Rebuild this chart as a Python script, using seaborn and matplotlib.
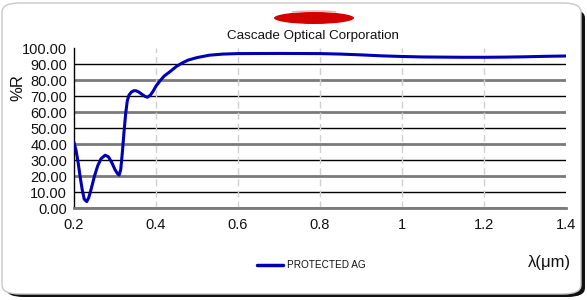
import numpy as np
import pandas as pd
import matplotlib
matplotlib.use("Agg")
import matplotlib.pyplot as plt
import seaborn as sns
from matplotlib.patches import FancyBboxPatch, Ellipse, Arc

wavelength = [0.200, 0.205, 0.210, 0.215, 0.220, 0.225, 0.231, 0.236, 0.242, 0.250,
              0.258, 0.266, 0.276, 0.284, 0.292, 0.300, 0.306, 0.310, 0.314, 0.318,
              0.322, 0.326, 0.330, 0.334, 0.340, 0.346, 0.351, 0.358, 0.366, 0.373,
              0.379, 0.386, 0.393, 0.400, 0.410, 0.420, 0.434, 0.450, 0.465, 0.479,
              0.500, 0.530, 0.563, 0.600, 0.700, 0.800, 0.850, 0.900, 0.950, 1.000,
              1.050, 1.100, 1.150, 1.200, 1.250, 1.300, 1.350, 1.400]
reflectance = [41.0, 36.0, 28.5, 19.5, 11.5, 5.5, 4.0, 6.5, 12.0, 20.0,
               26.5, 30.8, 33.0, 32.0, 28.5, 24.0, 21.5, 20.6, 24.0, 35.0,
               47.5, 59.0, 67.0, 70.5, 72.5, 73.3, 73.3, 72.5, 71.0, 69.8,
               69.2, 70.5, 73.0, 76.2, 79.5, 82.5, 85.2, 88.5, 90.8, 92.5,
               94.0, 95.5, 96.2, 96.5, 96.6, 96.5, 96.2, 95.7, 95.1, 94.7,
               94.4, 94.3, 94.2, 94.2, 94.3, 94.5, 94.8, 95.0]
series_name = "Protected Ag"
x_ticks = [0.2, 0.4, 0.6, 0.8, 1.0, 1.2, 1.4]
x_tick_labels = ["0.2", "0.4", "0.6", "0.8", "1", "1.2", "1.4"]
y_ticks = [0, 10, 20, 30, 40, 50, 60, 70, 80, 90, 100]
y_tick_labels = [f"{v:.2f}" for v in y_ticks]

df = pd.DataFrame({"wavelength": wavelength, "R": reflectance, "series": series_name})

sns.set_theme(style="white")
plt.rcParams["font.family"] = ["Liberation Sans", "DejaVu Sans"]

W, H = 587, 300
fig = plt.figure(figsize=(W / 100, H / 100), dpi=100)
fig.patch.set_facecolor("white")

def fx(px):
    return px / W

def fy(py):
    return 1 - py / H

# frame with shadow
shadow = FancyBboxPatch((fx(6), fy(297)), fx(579), (294 - 6) / H,
                        boxstyle="round,pad=0,rounding_size=0.03",
                        transform=fig.transFigure, facecolor="#111111",
                        edgecolor="none", zorder=0)
frame = FancyBboxPatch((fx(2), fy(294)), fx(579), (294 - 3) / H,
                       boxstyle="round,pad=0,rounding_size=0.03",
                       transform=fig.transFigure, facecolor="white",
                       edgecolor="#c8c8c8", linewidth=1.0, zorder=1)
fig.patches.extend([shadow, frame])

# logo
logo = Ellipse((fx(314), fy(18)), fx(80), 12 / H, transform=fig.transFigure,
               facecolor="#d40000", edgecolor="none", zorder=2)
arc = Arc((fx(314), fy(16)), fx(78), 10 / H, theta1=20, theta2=160,
          transform=fig.transFigure, color="#e8b0b0", lw=1.0, zorder=3)
fig.patches.extend([logo, arc])

ax = fig.add_axes([fx(74), fy(208), fx(566 - 74), (208 - 48) / H])
ax.set_zorder(5)
ax.patch.set_alpha(0)

# gridlines
for v in y_ticks[:-1]:
    if v % 20 == 0:
        ax.axhline(v, color="#7a7a7a", lw=2.0, zorder=1)
    else:
        ax.axhline(v, color="#000000", lw=1.0, zorder=1)
for xv in x_ticks[1:-1]:
    ax.axvline(xv, color="#d0d0d0", lw=1.0, ls=(0, (5, 3)), zorder=1)

sns.lineplot(data=df, x="wavelength", y="R", hue="series", palette=["#0000b4"],
             lw=2.2, ax=ax, zorder=3, legend=False)

ax.set_xlim(0.2, 1.4)
ax.set_ylim(0, 100)
ax.set_xticks(x_ticks)
ax.set_xticklabels(x_tick_labels)
ax.set_yticks(y_ticks)
ax.set_yticklabels(y_tick_labels)
ax.tick_params(axis="both", labelsize=10.5, colors="#111111", length=3, width=1,
               direction="out", pad=2)
ax.tick_params(axis="x", pad=4)
ax.set_xlabel("")
ax.set_ylabel("")
for s in ["top", "right"]:
    ax.spines[s].set_visible(False)
ax.spines["left"].set_color("black")
ax.spines["left"].set_linewidth(1)
ax.spines["bottom"].set_color("#7a7a7a")
ax.spines["bottom"].set_linewidth(2)

fig.text(fx(313), fy(36), "Cascade Optical Corporation", ha="center", va="center",
         fontsize=9.6, color="#111111")
fig.text(fx(18), fy(88), "%R", rotation=90, ha="center", va="center",
         fontsize=12, color="#111111")
fig.text(fx(549), fy(262), "λ(μm)", ha="center", va="center",
         fontsize=12, color="#111111")

# legend
fig.lines.append(plt.Line2D([fx(257), fx(283)], [fy(265), fy(265)],
                            transform=fig.transFigure, color="#0000b4", lw=2.5))
fig.text(fx(287), fy(265), series_name.upper(), ha="left", va="center",
         fontsize=7.2, color="#111111", fontstretch="expanded")

fig.savefig("out.png", dpi=100)
